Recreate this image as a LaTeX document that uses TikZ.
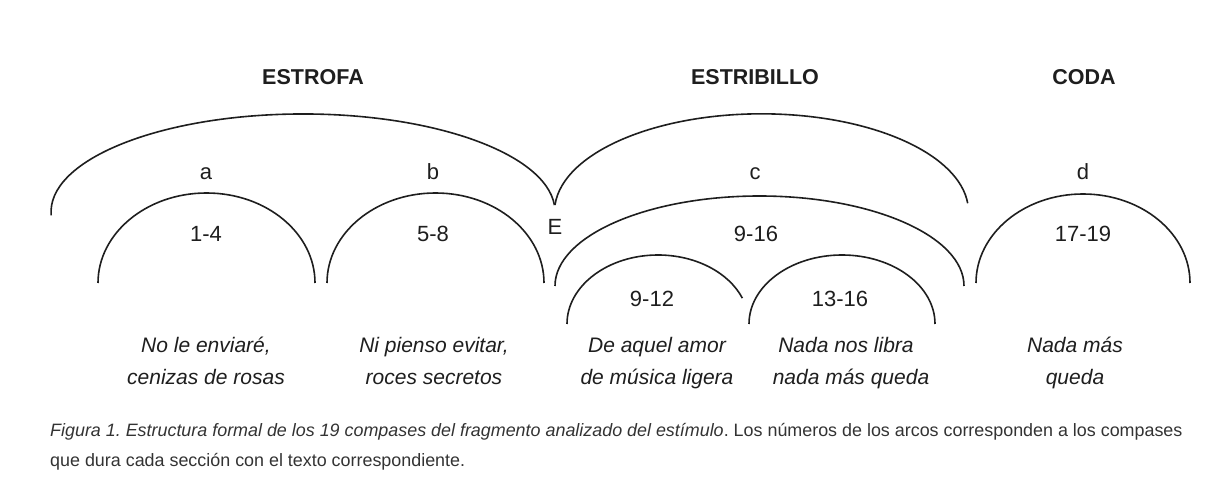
\documentclass[tikz,border=0pt]{standalone}
\usepackage{fontspec}
\setmainfont{Liberation Sans}
\definecolor{inkgray}{HTML}{1E1E1E}
\definecolor{capgray}{HTML}{333333}
\frenchspacing

\begin{document}
\begin{tikzpicture}[x=1pt, y=1pt,
    arcline/.style={line width=1.6pt, color=inkgray},
    partname/.style={anchor=base, color=inkgray, font=\fontsize{21.5}{24}\selectfont\bfseries},
    seclabel/.style={anchor=base, color=inkgray, font=\fontsize{22}{24}\selectfont},
    lyric/.style={anchor=base, color=inkgray, font=\fontsize{21}{24}\selectfont\itshape},
    caption/.style={anchor=base west, color=capgray, font=\fontsize{17.9}{20}\selectfont, inner sep=0pt}]

    \useasboundingbox (0,0) rectangle (1229,497);

	% Parts
    \node[partname] (estrofa) at (313,412) {ESTROFA};
    \node[partname] (estribillo) at (755,412) {ESTRIBILLO};
    \node[partname] (coda) at (1084,412) {CODA};

	% Big arcs
    \coordinate (E_0) at (51.2,281.6);
    \coordinate (E_1) at (555,292);
    \draw[arcline] (E_0) arc[start angle=182, end angle=4, x radius=252, y radius=98];
    \draw[arcline] (E_1) arc[start angle=176, end angle=5, x radius=207, y radius=98];
    \node[seclabel] (e) at (555,262) {E};

	% Sections
    \node[seclabel] (a) at (206,317) {a};
    \node[seclabel] (b) at (433,317) {b};
    \node[seclabel] (c) at (755,317) {c};
    \node[seclabel] (d) at (1083,317) {d};

	% Small arcs
    \coordinate (a_0) at (98,214);
    \draw[arcline] (a_0) arc[start angle=180, end angle=0, x radius=108.5, y radius=90];
    \coordinate (b_0) at (327,214);
    \draw[arcline] (b_0) arc[start angle=180, end angle=0, x radius=108.5, y radius=90];
    \coordinate (c_0) at (555,211);
    \draw[arcline] (c_0) arc[start angle=180, end angle=0, x radius=204.5, y radius=90];
    \coordinate (c1_0) at (567,173);
    \draw[arcline] (c1_0) arc[start angle=180, end angle=22, x radius=91, y radius=69];
    \coordinate (c2_0) at (749,173);
    \draw[arcline] (c2_0) arc[start angle=180, end angle=0, x radius=93, y radius=69];
    \coordinate (d_0) at (976,214);
    \draw[arcline] (d_0) arc[start angle=180, end angle=0, x radius=107, y radius=89];

	% Bar numbers
    \node[seclabel] (n1) at (206,255) {1-4};
    \node[seclabel] (n2) at (433,255) {5-8};
    \node[seclabel] (n3) at (756,255) {9-16};
    \node[seclabel] (n4) at (652,190) {9-12};
    \node[seclabel] (n5) at (840,190) {13-16};
    \node[seclabel] (n6) at (1083,255) {17-19};

	% Lyrics
    \node[lyric] (l1_0) at (206,144) {No le enviaré,};
    \node[lyric] (l1_1) at (206,112) {cenizas de rosas};
    \node[lyric] (l2_0) at (434,144) {Ni pienso evitar,};
    \node[lyric] (l2_1) at (434,112) {roces secretos};
    \node[lyric] (l3_0) at (657,144) {De aquel amor};
    \node[lyric] (l3_1) at (657,112) {de música ligera};
    \node[lyric] (l4_0) at (846,144) {Nada nos libra};
    \node[lyric] (l4_1) at (851,112) {nada más queda};
    \node[lyric] (l5_0) at (1075,144) {Nada más};
    \node[lyric] (l5_1) at (1075,112) {queda};

	% Caption
    \node[caption] (cap0) at (50,60) {\textit{Figura 1. Estructura formal de los 19 compases del fragmento analizado del estímulo}. Los números de los arcos corresponden a los compases};
    \node[caption] (cap1) at (50,30) {que dura cada sección con el texto correspondiente.};

\end{tikzpicture}
\end{document}
